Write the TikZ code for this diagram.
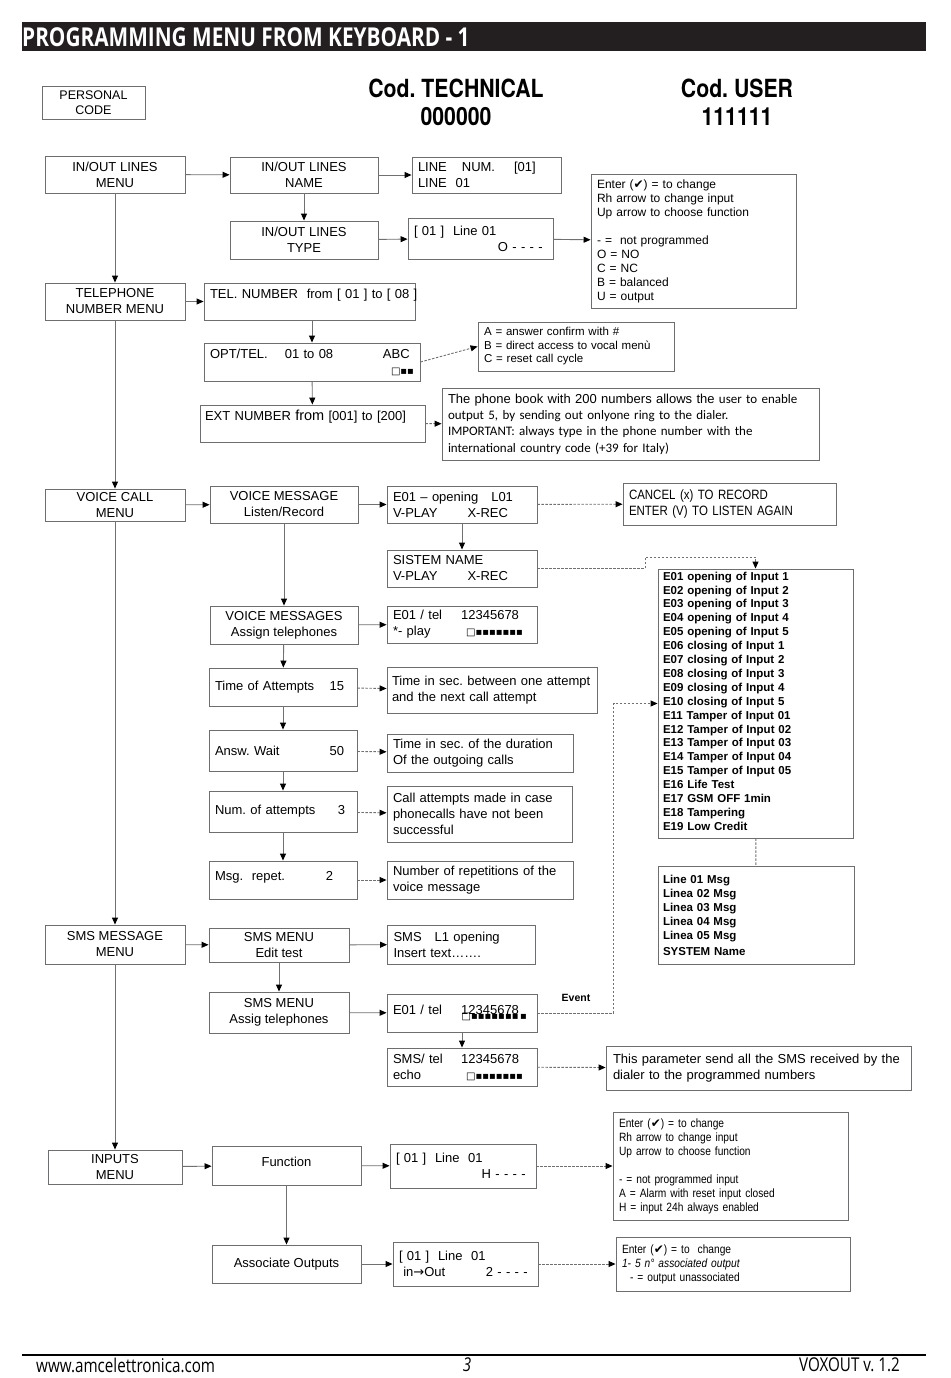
\documentclass[tikz,border=0pt]{standalone}
\usepackage{fontspec}
\setmainfont{Liberation Sans}
\newfontfamily\narrowfont[FakeStretch=0.85]{Liberation Sans}
\newfontfamily\codefont[FakeStretch=0.85]{TeX Gyre Heros}
\newfontfamily\calfont{Carlito}
\newfontfamily\symfont{DejaVu Sans}
\newfontfamily\headfont[FakeStretch=0.8]{Open Sans}
\newfontfamily\footfont[FakeStretch=0.8]{Open Sans}
\usetikzlibrary{arrows.meta, positioning}

\definecolor{boxgray}{HTML}{6D6E70}
\definecolor{linegray}{HTML}{707070}
\definecolor{barblack}{HTML}{231F20}

\newcommand{\lr}[2]{\makebox[\linewidth][l]{#1\hfill#2}}
\newcommand{\sq}[1]{{\symfont\fontsize{10}{10}\selectfont #1}}
\newcommand{\chk}{{\symfont ✔}}

\tikzset{
  box/.style={draw=boxgray, line width=0.9pt, inner xsep=6pt, inner ysep=0pt,
    align=center, font=\fontsize{13}{16}\selectfont},
  lbox/.style={box, align=left},
  note/.style={lbox, font=\fontsize{12}{14}\selectfont},
  codes/.style={font=\codefont\bfseries\fontsize{25}{28}\selectfont, align=center},
  arr/.style={draw=linegray, line width=0.9pt, -{Triangle[length=7pt,width=6pt,color=black]}},
  darr/.style={arr, dash pattern=on 2.5pt off 1.5pt},
  dline/.style={draw=linegray, line width=0.9pt, dash pattern=on 2.5pt off 1.5pt},
}

\begin{document}
\frenchspacing
\begin{tikzpicture}[x=1pt, y=-1pt]
  \fill[white] (0,0) rectangle (950,1378);
  \useasboundingbox (0,0) rectangle (950,1378);

  % title bar
  \fill[barblack] (22,22) rectangle (926,51);
  \node[anchor=west, inner sep=0pt, text=white, font=\headfont\bfseries\fontsize{26}{26}\selectfont] (title) at (22,37) {PROGRAMMING MENU FROM KEYBOARD - 1};

  \node[box, minimum width=103, minimum height=33, font=\fontsize{12.5}{15}\selectfont] (pcode) at (93.5,102.5) {PERSONAL\\CODE};
  \node[codes] (tech) at (456,102) {Cod. TECHNICAL\\000000};
  \node[codes] (user) at (737,102) {Cod. USER\\111111};

  % main menus
  \node[box, minimum width=140, minimum height=37] (iomenu) at (115,174.5) {IN/OUT LINES\\MENU};
  \node[box, minimum width=140, minimum height=37] (telmenu) at (115,301.5) {TELEPHONE\\NUMBER MENU};
  \node[box, minimum width=140, minimum height=32] (vcmenu) at (115,505) {VOICE CALL\\MENU};
  \node[box, minimum width=140, minimum height=39] (smsmenu) at (115,944.5) {SMS MESSAGE\\MENU};
  \node[box, minimum width=134, minimum height=34] (inmenu) at (115,1167) {INPUTS\\MENU};

  % in/out lines
  \node[box, minimum width=148, minimum height=36] (ioname) at (304,175) {IN/OUT LINES\\NAME};
  \node[lbox, text width=137pt, minimum height=36] (linenum) at (486.5,175) {LINE\hspace{15pt}NUM.\hspace{19pt}[01]\\LINE\ \ 01};
  \node[box, minimum width=148, minimum height=38] (iotype) at (304,240) {IN/OUT LINES\\TYPE};
  \node[lbox, text width=133pt, minimum height=41] (linetype) at (480.5,238.5) {[ 01 ]\ \ Line 01\\\lr{}{O - - - -\ }};
  \node[note, text width=193pt, minimum height=134] (ioinfo) at (693.5,241) {Enter (\chk) = to change\\Rh arrow to change input\\Up arrow to choose function\\[14pt]- =\ \ not programmed\\O = NO\\C = NC\\B = balanced\\U = output};

  % telephone numbers
  \node[lbox, text width=199pt, minimum height=37] (telnum) at (309.5,301.5) {\mbox{TEL. NUMBER\ \ from [ 01 ] to [ 08 ]}\\\mbox{}};
  \node[lbox, text width=204pt, minimum height=38] (optel) at (312,362) {\lr{OPT/TEL.\hspace{17pt}01 to 08}{ABC\ }\\\lr{}{\sq{□▪▪}}};
  \node[note, text width=184pt, minimum height=49, font=\fontsize{11.5}{13.5}\selectfont] (abcinfo) at (576,346.5) {A = answer confirm with \#\\B = direct access to vocal menù\\C = reset call cycle};
  \node[lbox, inner xsep=5pt, text width=215pt, minimum height=37] (extnum) at (312.5,423.5) {EXT NUMBER {\fontsize{14.5}{16}\selectfont from} [001] to [200]\\\mbox{}};
  \node[lbox, text width=365pt, minimum height=72, font=\calfont\fontsize{13}{16.3}\selectfont] (phonebook) at (630.5,424) {{\rmfamily The phone book with 200 numbers allows the} user to enable\\output 5, by sending out onlyone ring to the dialer.\\IMPORTANT: always type in the phone number with the\\international country code (+39 for Italy)};

  % voice call
  \node[box, minimum width=148, minimum height=37] (vmsg) at (284,504.5) {VOICE MESSAGE\\Listen/Record};
  \node[lbox, text width=138pt, minimum height=37] (e01open) at (462,504.5) {E01 – opening\ \ \ L01\\V-PLAY\hspace{30pt}X-REC};
  \node[lbox, text width=201pt, minimum height=42, font=\narrowfont\fontsize{13.5}{16}\selectfont] (cancel) at (729.5,504) {CANCEL (x) TO RECORD\\ENTER (V) TO LISTEN AGAIN};
  \node[lbox, text width=138pt, minimum height=37] (sysname) at (462,568.5) {SISTEM NAME\\V-PLAY\hspace{30pt}X-REC};
  \node[lbox, text width=185pt, inner xsep=5pt, minimum height=269, font=\bfseries\fontsize{11.5}{13.9}\selectfont] (evlist) at (755.5,703.5) {E01 opening of Input 1\\E02 opening of Input 2\\E03 opening of Input 3\\E04 opening of Input 4\\E05 opening of Input 5\\E06 closing of Input 1\\E07 closing of Input 2\\E08 closing of Input 3\\E09 closing of Input 4\\E10 closing of Input 5\\E11 Tamper of Input 01\\E12 Tamper of Input 02\\E13 Tamper of Input 03\\E14 Tamper of Input 04\\E15 Tamper of Input 05\\E16 Life Test\\E17 GSM OFF 1min\\E18 Tampering\\E19 Low Credit\\[-9pt]\mbox{}};
  \node[lbox, text width=186pt, inner xsep=5pt, minimum height=98, font=\bfseries\fontsize{11.5}{14}\selectfont] (msglist) at (756,915) {Line 01 Msg\\Linea 02 Msg\\Linea 03 Msg\\Linea 04 Msg\\Linea 05 Msg\\[2pt]SYSTEM Name};
  \node[box, minimum width=148, minimum height=38] (vassign) at (284,625) {VOICE MESSAGES\\Assign telephones};
  \node[lbox, text width=138pt, minimum height=37] (vtel) at (462,624.5) {\lr{E01 / tel}{12345678\hspace{12pt}}\\\lr{*- play}{\sq{□▪▪▪▪▪▪▪}\hspace{8pt}}};

  \node[lbox, text width=136pt, minimum height=38] (tatt) at (283,687) {\lr{Time of Attempts}{15\hspace{7pt}}};
  \node[lbox, inner xsep=5pt, text width=200pt, minimum height=46] (tattinfo) at (492,690) {Time in sec. between one attempt\\and the next call attempt};
  \node[lbox, text width=136pt, minimum height=41] (answ) at (283,750.5) {\lr{Answ. Wait}{50\hspace{7pt}}};
  \node[lbox, text width=174pt, minimum height=38] (answinfo) at (480,753) {Time in sec. of the duration\\Of the outgoing calls};
  \node[lbox, text width=136pt, minimum height=41] (numatt) at (283,811.5) {\lr{Num. of attempts}{3\hspace{6pt}}};
  \node[lbox, text width=173pt, minimum height=56] (numinfo) at (479.5,814) {Call attempts made in case\\phonecalls have not been\\successful};
  \node[lbox, text width=136pt, minimum height=38] (msgrep) at (283,880) {\lr{Msg.\ \ repet.}{2\hspace{18pt}}\\[-8pt]\mbox{}};
  \node[lbox, text width=174pt, minimum height=38] (repinfo) at (480,880) {Number of repetitions of the\\voice message};

  % sms
  \node[box, minimum width=140, minimum height=34] (smsedit) at (279,945) {SMS MENU\\Edit test};
  \node[lbox, text width=136pt, minimum height=39] (smsl1) at (461.5,944.5) {SMS\ \ \ L1 opening\\Insert text…….};
  \node[box, minimum width=140, minimum height=41] (smsassign) at (279,1012.5) {SMS MENU\\Assig telephones};
  \node[lbox, text width=138pt, minimum height=38] (smstel) at (462,1013) {\lr{E01 / tel}{12345678\hspace{12pt}}\\[-11pt]\lr{}{\sq{□▪▪▪▪▪▪▪\,▪}\hspace{4pt}}};
  \node[font=\bfseries\fontsize{10.5}{12}\selectfont] (event) at (576,998) {Event};
  \node[lbox, text width=138pt, minimum height=38] (echo) at (462,1067) {\lr{SMS/ tel}{12345678\hspace{12pt}}\\\lr{echo}{\sq{□▪▪▪▪▪▪▪}\hspace{8pt}}};
  \node[lbox, text width=291pt, inner xsep=7pt, minimum height=44] (echoinfo) at (758.5,1068) {This parameter send all the SMS received by the\\dialer to the programmed numbers};

  % inputs
  \node[box, minimum width=149, minimum height=39] (func) at (286.5,1165.5) {Function\\[-8pt]\mbox{}};
  \node[lbox, text width=134pt, minimum height=44] (inline) at (463,1166) {[ 01 ]\ \ Line\ \ 01\\\lr{}{H - - - -\ }};
  \node[note, text width=223pt, minimum height=108, font=\narrowfont\fontsize{12}{14}\selectfont] (ininfo) at (730.5,1166) {Enter (\chk) = to change\\Rh arrow to change input\\Up arrow to choose function\\[14pt]- = not programmed input\\A = Alarm with reset input closed\\H = input 24h always enabled};
  \node[box, minimum width=149, minimum height=38] (assoc) at (286.5,1264) {Associate Outputs};
  \node[lbox, text width=133pt, minimum height=44] (outline) at (465.5,1264) {[ 01 ]\ \ Line\ \ 01\\\lr{\ in{\symfont →}Out}{2 - - - -\ }};
  \node[note, text width=222pt, minimum height=54, font=\narrowfont\fontsize{12}{14}\selectfont] (outinfo) at (733,1264) {Enter (\chk) = to\ \ change\\\textit{1- 5 n° associated output}\\\ \ - = output unassociated};

  % Edges
  \draw[arr] (iomenu) -- (ioname);
  \draw[arr] (ioname) -- (linenum);
  \draw[arr] (ioname) -- (iotype);
  \draw[arr] (iotype) -- (linetype);
  \draw[arr] (linetype) -- (ioinfo);
  \draw[arr] (iomenu) -- (telmenu);

  \draw[arr] (telmenu) -- (telnum);
  \draw[arr] (optel.north |- telnum.south) -- (optel);
  \draw[darr] (optel.east) -- (abcinfo.west);
  \draw[arr] (optel) -- (extnum);
  \draw[darr] (extnum) -- (phonebook);
  \draw[arr] (telmenu) -- (vcmenu);

  \draw[arr] (vcmenu) -- (vmsg);
  \draw[arr] (vmsg) -- (e01open);
  \draw[darr] (e01open) -- (cancel);
  \draw[arr] (e01open) -- (sysname);
  \draw[darr] (sysname.east) -| (645,557) -| (evlist.north);
  \draw[dline] (evlist) -- (msglist);
  \draw[arr] (vmsg) -- (vassign);
  \draw[arr] (vassign) -- (vtel);
  \draw[arr] (vassign) -- (tatt);
  \draw[darr] (tatt) -- (tattinfo);
  \draw[arr] (tatt) -- (answ);
  \draw[darr] (answ) -- (answinfo);
  \draw[arr] (answ) -- (numatt);
  \draw[darr] (numatt) -- (numinfo);
  \draw[arr] (numatt) -- (msgrep);
  \draw[darr] (msgrep) -- (repinfo);
  \draw[arr] (vcmenu) -- (smsmenu);

  \draw[arr] (smsmenu) -- (smsedit);
  \draw[arr] (smsedit) -- (smsl1);
  \draw[arr] (smsedit) -- (smsassign);
  \draw[arr] (smsassign) -- (smstel);
  \draw[darr] (smstel.east) -| ([xshift=-44pt]evlist.west) -- (evlist.west);
  \draw[arr] (smstel) -- (echo);
  \draw[darr] (echo) -- (echoinfo);
  \draw[arr] (smsmenu) -- (inmenu);

  \draw[arr] (inmenu) -- (func);
  \draw[arr] (func) -- (inline);
  \draw[darr] (inline) -- (ininfo);
  \draw[arr] (func) -- (assoc);
  \draw[arr] (assoc) -- (outline);
  \draw[darr] (outline) -- (outinfo);

  % footer
  \draw[line width=1.2pt] (22,1355) -- (926,1355);
  \node[anchor=west, inner sep=0pt, font=\footfont\fontsize{19}{19}\selectfont] (web) at (36,1365) {www.amcelettronica.com};
  \node[inner sep=0pt, font=\footfont\itshape\fontsize{19}{19}\selectfont] (page) at (467,1365) {3};
  \node[anchor=east, inner sep=0pt, font=\footfont\fontsize{19}{19}\selectfont] (ver) at (900,1365) {VOXOUT v. 1.2};
\end{tikzpicture}
\end{document}
